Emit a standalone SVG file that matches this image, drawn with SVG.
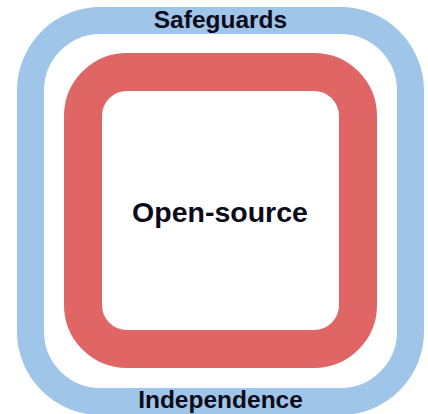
<svg xmlns="http://www.w3.org/2000/svg" width="428" height="414" viewBox="0 0 428 414">
  <style>
    .ring { fill: none; }
    .outer { stroke: #9fc5e8; stroke-width: 27; }
    .inner { stroke: #e06666; stroke-width: 38; }
    .label { font-family: "Liberation Sans", Arial, sans-serif; font-weight: bold; fill: #0b0b1a; text-anchor: middle; }
  </style>
  <rect width="428" height="414" fill="#ffffff"/>
  <g id="safeguards-ring">
    <rect class="ring outer" x="30.5" y="20.5" width="380" height="381" rx="70" ry="70"/>
  </g>
  <g id="independence-ring">
    <rect class="ring inner" x="83" y="72" width="275" height="277" rx="44" ry="44"/>
  </g>
  <g id="labels">
    <text class="label" x="220.5" y="28" font-size="24.5">Safeguards</text>
    <text class="label" x="220.5" y="408" font-size="24.5">Independence</text>
  </g>
  <g id="open-source">
    <text class="label" x="220" y="222" font-size="28.5">Open-source</text>
  </g>
</svg>
